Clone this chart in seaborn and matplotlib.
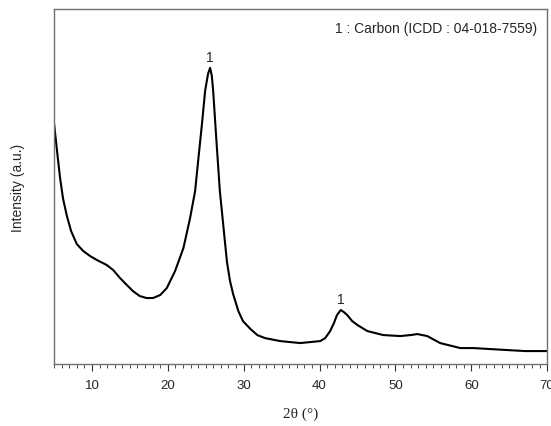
import numpy as np
import pandas as pd
import matplotlib
matplotlib.use("Agg")
import matplotlib.pyplot as plt
from matplotlib.ticker import MultipleLocator
import seaborn as sns

two_theta = [5.0, 5.4, 5.8, 6.2, 6.7, 7.25, 8.0, 8.85, 9.75, 10.65, 11.95, 12.8, 13.7, 14.6,
             15.4, 16.3, 17.2, 18.05, 19.0, 19.87, 20.96, 22.06, 22.94, 23.6, 24.04,
             24.49, 24.92, 25.3, 25.58, 25.8, 25.98, 26.41, 26.86, 27.52, 27.8, 28.2, 28.61,
             29.3, 29.9, 30.9, 31.8, 32.8, 34.8, 37.45, 40.1, 40.75, 41.4, 41.9, 42.3, 42.8,
             43.2, 43.65, 44.3, 45.0, 46.3, 48.4, 50.65, 52.0, 52.9, 54.2, 55.9, 58.55, 60.3,
             62.5, 64.8, 67.1, 70.0]
intensity = [241, 213, 186, 165, 148, 133, 120, 113, 108, 104, 99, 94, 86, 79,
             73, 68, 66, 66, 69, 76, 93, 116, 146, 173, 206,
             239, 273, 290, 296, 288, 273, 223, 173, 123, 102, 83, 70,
             53, 43, 35, 29, 26, 23, 21, 23, 26, 33, 41, 49, 54,
             52, 49, 43, 39, 33, 29, 28, 29, 30, 28, 21, 16, 16,
             15, 14, 13, 13]

peak_pos = [25.55, 42.8]
peak_int = [296, 54]
peak_labels = ["1", "1"]
legend_text = "1 : Carbon (ICDD : 04-018-7559)"

sns.set_style("white")
plt.rcParams['font.family'] = ['Liberation Sans', 'DejaVu Sans']

fig = plt.figure(figsize=(5.51, 4.27), dpi=100)
ax = fig.add_axes([0.098, 0.145, 0.895, 0.832])

df = pd.DataFrame({"two_theta": two_theta, "intensity": intensity})
sns.lineplot(data=df, x="two_theta", y="intensity", ax=ax, color="black", linewidth=1.5)

for p, i, t in zip(peak_pos, peak_int, peak_labels):
    ax.text(p, i + 4, t, ha="center", va="bottom", fontsize=10)

ax.text(0.98, 0.965, legend_text, transform=ax.transAxes, ha="right", va="top", fontsize=10)

ax.set_xlim(5, 70)
ax.set_ylim(0, 355)
ax.set_yticks([])
ax.xaxis.set_major_locator(MultipleLocator(10))
ax.xaxis.set_minor_locator(MultipleLocator(1))
ax.tick_params(axis="x", which="major", direction="out", length=5, width=0.8,
               color="#333333", labelsize=9.5, bottom=True, pad=6)
ax.tick_params(axis="x", which="minor", direction="out", length=3, width=0.6,
               color="#333333", bottom=True)
for s in ax.spines.values():
    s.set_color("#707070")
    s.set_linewidth(1.0)

ax.set_xlabel("2θ (°)", family=["Liberation Serif", "DejaVu Serif"], fontsize=11, labelpad=11)
ax.set_ylabel("Intensity (a.u.)", fontsize=10, labelpad=21)

fig.savefig("out.png", dpi=100)
